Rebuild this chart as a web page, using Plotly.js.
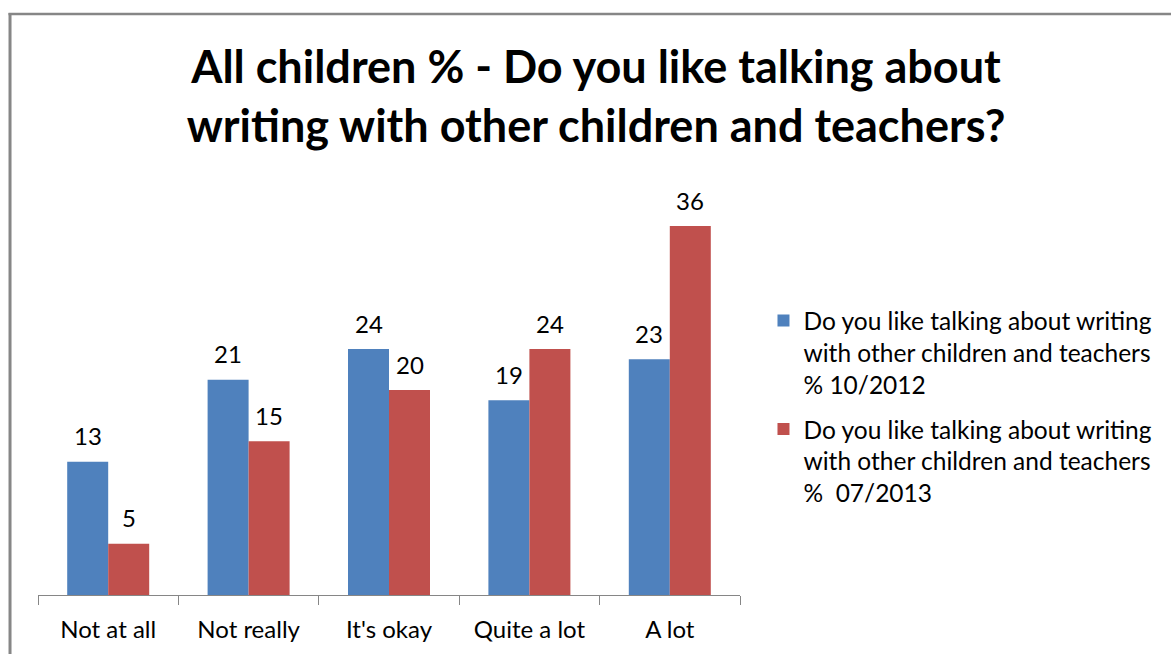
<!DOCTYPE html>
<html>
<head>
<meta charset="utf-8">
<script src="https://cdn.plot.ly/plotly-3.0.1.min.js"></script>
<style>
html,body{margin:0;padding:0;background:#fff;}
#chart{width:1171px;height:654px;}
</style>
</head>
<body>
<div id="chart"></div>
<script>
const categories = ["Not at all", "Not really", "It's okay", "Quite a lot", "A lot"];
const series2012Name = "Do you like talking about writing<br>with other children and teachers<br>% 10/2012";
const series2013Name = "Do you like talking about writing<br>with other children and teachers<br>%  07/2013";
const values2012 = [13, 21, 24, 19, 23];
const values2013 = [5, 15, 20, 24, 36];
const chartTitle = "All children % - Do you like talking about<br>writing with other children and teachers?";

const W = 1171, H = 654;
const M = {l: 38, r: 430.5, t: 185, b: 59};
const PW = W - M.l - M.r, PH = H - M.t - M.b;
const px = x => (x - M.l) / PW;
const py = y => (H - M.b - y) / PH;

const FONT = "Lato, 'Open Sans', sans-serif";
const BLUE = "#4F81BD", RED = "#C0504D", FRAME = "#868686";

const traces = [
  {type: "bar", x: categories, y: values2012, name: series2012Name, legendgroup: "a",
   marker: {color: BLUE}, hoverinfo: "skip"},
  {type: "bar", x: categories, y: values2013, name: series2013Name, legendgroup: "b",
   marker: {color: RED}, hoverinfo: "skip"}
];

const halfBar = 20.5;
const annotations = [];
[[values2012, -halfBar], [values2013, halfBar]].forEach(([vals, shift]) => {
  vals.forEach((v, i) => {
    annotations.push({x: categories[i], y: v, xref: "x", yref: "y", text: String(v),
      showarrow: false, xshift: shift, yshift: 26, yanchor: "middle", xanchor: "center",
      font: {family: FONT, size: 24, color: "#000"}});
  });
});

const layout = {
  width: W, height: H,
  margin: M,
  paper_bgcolor: "#fff", plot_bgcolor: "#fff",
  barmode: "group", bargap: 0.416, bargroupgap: 0,
  title: {text: chartTitle, font: {family: FONT, size: 45, color: "#000", weight: "bold"},
          x: 596 / W, xanchor: "center", xref: "container", y: 1 - 83 / H, yanchor: "middle", yref: "container"},
  xaxis: {type: "category", showline: true, linecolor: FRAME, linewidth: 1,
          ticks: "outside", ticklen: 9, tickcolor: FRAME, tickwidth: 1, tickson: "boundaries",
          showgrid: false, zeroline: false, ticklabelstandoff: 13,
          tickfont: {family: FONT, size: 24, color: "#000"}},
  yaxis: {visible: false, range: [0, 40], showgrid: false, zeroline: false},
  legend: {x: px(764), y: py(298), xanchor: "left", yanchor: "top", valign: "top",
           font: {family: FONT, size: 24.5, color: "#000"}, tracegroupgap: 10,
           bgcolor: "rgba(0,0,0,0)"},
  showlegend: true,
  annotations: annotations,
  shapes: [
    {type: "line", xref: "paper", yref: "paper", x0: px(10), x1: px(10), y0: py(13), y1: py(H + 5),
     line: {color: FRAME, width: 3}},
    {type: "line", xref: "paper", yref: "paper", x0: px(8.5), x1: px(W + 5), y0: py(14), y1: py(14),
     line: {color: FRAME, width: 2.5}}
  ]
};

Plotly.newPlot("chart", traces, layout, {staticPlot: true, displayModeBar: false});
</script>
</body>
</html>
